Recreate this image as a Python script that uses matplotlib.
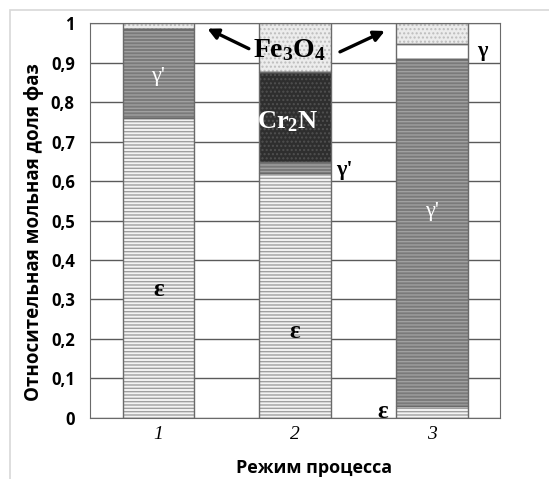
import matplotlib
matplotlib.use("Agg")
from matplotlib import pyplot as plt
from matplotlib.patches import Rectangle
import numpy as np

plt.rcParams["mathtext.fontset"] = "custom"
plt.rcParams["mathtext.rm"] = "Liberation Serif"
plt.rcParams["mathtext.bf"] = "Liberation Serif:bold"
plt.rcParams["mathtext.it"] = "Liberation Serif:italic"

regimes = ["1", "2", "3"]
eps = [0.76, 0.62, 0.03]
gamma_prime = [0.225, 0.028, 0.88]
cr2n = [0.0, 0.228, 0.0]
gamma = [0.0, 0.0, 0.038]
fe3o4 = [0.015, 0.124, 0.052]
y_ticks = [0, 0.1, 0.2, 0.3, 0.4, 0.5, 0.6, 0.7, 0.8, 0.9, 1.0]
y_labels = ["0", "0,1", "0,2", "0,3", "0,4", "0,5", "0,6", "0,7", "0,8", "0,9", "1"]

# phase name, values, face, hatch, hatch colour
layers = [
    ("eps", eps, "#f4f4f4", "-----", "#a0a0a0"),
    ("gamma_prime", gamma_prime, "#7a7a7a", "-----", "#a0a0a0"),
    ("cr2n", cr2n, "#2e2e2e", "....", "#505050"),
    ("gamma", gamma, "white", "", "white"),
    ("fe3o4", fe3o4, "#ececec", "....", "#bdbdbd"),
]

fig = plt.figure(figsize=(5.49, 4.79), dpi=100)
ax = fig.add_axes([0.164, 0.128, 0.747, 0.823])

x = np.arange(len(regimes))
width = 0.525
bottom = np.zeros(len(regimes))
for name, vals, face, hatch, hcol in layers:
    vals = np.array(vals)
    ax.bar(x, vals, width, bottom=bottom, color=face, hatch=hatch,
           edgecolor=hcol, linewidth=0, zorder=2)
    ax.bar(x, vals, width, bottom=bottom, fill=False,
           edgecolor="#6a6a6a", linewidth=1.0, zorder=3)
    bottom += vals

ax.set_xlim(-0.5, 2.5)
ax.set_ylim(0, 1)
ax.set_yticks(y_ticks)
ax.set_yticklabels(y_labels, fontsize=12, fontweight="bold", family="Open Sans")
ax.set_xticks(x)
ax.set_xticklabels(regimes, fontsize=14, style="italic", family="Liberation Serif")
ax.tick_params(axis="y", length=0, pad=11)
ax.tick_params(axis="x", length=0, pad=6)
ax.grid(axis="y", color="#5a5a5a", linewidth=1.0, zorder=0)
ax.set_axisbelow(True)
for sp in ax.spines.values():
    sp.set_color("#6a6a6a")

ax.set_ylabel("Относительная мольная доля фаз", fontsize=13.5,
              fontweight="bold", family="Open Sans")
ax.set_xlabel("Режим процесса", fontsize=13, fontweight="bold",
              family="Open Sans")
ax.yaxis.set_label_coords(-0.112, 0.472)
ax.xaxis.set_label_coords(0.546, -0.106)

serif = "Liberation Serif"
ax.text(0, 0.866, "γ'", color="white", fontsize=16, family=serif,
        ha="center", va="center", zorder=5)
ax.text(0, 0.324, "ε", fontsize=18, fontweight="bold", family=serif,
        ha="center", va="center", zorder=5)
ax.text(1, 0.218, "ε", fontsize=18, fontweight="bold", family=serif,
        ha="center", va="center", zorder=5)
ax.text(0.945, 0.751, "$\\mathbf{Cr_2N}$", color="white", fontsize=19,
        ha="center", va="center", zorder=5)
ax.text(0.96, 0.935, "$\\mathbf{Fe_3O_4}$", fontsize=20,
        ha="center", va="center", zorder=5)
ax.text(1.36, 0.629, "γ'", fontsize=16, fontweight="bold", family=serif,
        ha="center", va="center", zorder=5)
ax.text(2, 0.522, "γ'", color="white", fontsize=16, family=serif,
        ha="center", va="center", zorder=5)
ax.text(1.64, 0.015, "ε", fontsize=18, fontweight="bold", family=serif,
        ha="center", va="center", zorder=5)
ax.text(2.37, 0.929, "γ", fontsize=16, fontweight="bold", family=serif,
        ha="center", va="center", zorder=5)

arrow = dict(arrowstyle="-|>", color="black", lw=2.4, mutation_scale=16)
ax.annotate("", xy=(0.34, 0.99), xytext=(0.68, 0.933), arrowprops=arrow, zorder=6)
ax.annotate("", xy=(1.675, 0.984), xytext=(1.31, 0.925), arrowprops=arrow, zorder=6)

fig.patches.append(Rectangle((10 / 549, -0.1), 1.2, 1 - 10 / 479 + 0.1,
                             transform=fig.transFigure, fill=False,
                             edgecolor="#d8d8d8", linewidth=1.2))

fig.savefig("out.png", dpi=100)
